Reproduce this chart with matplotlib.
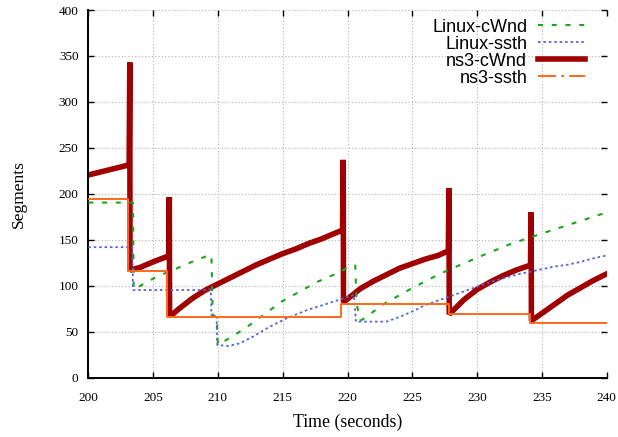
import matplotlib.pyplot as plt
from matplotlib.lines import Line2D

# Linux-cWnd
lx_cwnd_t = [200, 203.45, 203.5, 203.9, 204.5, 205.3, 206, 206.7, 207.3, 208, 208.7, 209.4,
             209.5, 209.6, 209.9, 210.0, 210.4, 211, 212.1, 213.5, 214.9, 216.3, 217.7, 219.2,
             220.4, 220.6, 220.7, 221.0, 221.1, 222.9, 225.1, 227.1, 228.5, 230.5, 232.5,
             234.6, 237, 239.6, 240]
lx_cwnd_v = [190.5, 190.5, 96, 99, 104, 110, 114, 118, 122, 126, 130, 133.5,
             133, 68, 66, 36, 39, 44, 53.7, 68, 82.7, 93.6, 104.5, 113.6,
             122.6, 122, 80, 63, 62.8, 81, 98.3, 112.8, 121.5, 133.5, 145,
             155, 166, 178, 180]

# Linux-ssth
lx_ssth_t = [200, 203.4, 203.45, 209.0, 209.3, 209.45, 209.5, 209.9, 209.95, 210.8, 211.7,
             212.7, 214.0, 215.3, 216.9, 218.1, 219.3, 220.5, 220.65, 223.0, 224, 225, 226,
             227, 228, 229, 230, 231, 232, 233, 234, 235, 236, 237, 238, 239, 240]
lx_ssth_v = [142, 142, 95.4, 95.4, 96, 96, 68, 66, 35.6, 34.5, 37.4,
             44.6, 55.5, 64.6, 73.7, 79, 84.5, 90, 61, 61, 66, 72, 79,
             84, 89, 94, 99, 104, 108, 112, 115, 118, 121, 123, 126, 130, 133]

# ns3-cWnd
ns_cwnd_t = [200, 203.15, 203.2, 203.22, 204, 205, 206.2, 206.25, 206.27, 206.5, 207, 208,
             209, 210, 211, 212, 213, 214, 215, 216, 217, 218, 219, 219.62, 219.67, 219.69,
             221, 222, 223, 224, 225, 226, 227, 227.78, 227.83, 227.85, 229, 230, 231, 232,
             233, 234.12, 234.17, 234.19, 235, 236, 237, 238, 239, 240]
ns_cwnd_v = [220.5, 231.5, 343, 117, 120, 126, 132.5, 196.5, 68, 69, 75, 86,
             95, 102, 109, 116, 123, 129, 135, 140, 146, 151, 157, 160.5, 237, 82,
             97, 105, 112, 119, 124, 129, 133, 138, 206, 69, 85, 96, 104, 111,
             117, 122.5, 180, 62, 70, 80, 90, 98, 106, 113]

# ns3-ssth
ns_ssth_t = [200, 203.1, 203.1, 206.1, 206.1, 219.5, 219.5, 227.8, 227.8, 234.1, 234.1, 240]
ns_ssth_v = [194, 194, 116, 116, 66, 66, 80, 80, 69, 69, 60, 60]

labels = ['Linux-cWnd', 'Linux-ssth', 'ns3-cWnd', 'ns3-ssth']
c_green = '#1aa61a'
c_blue = '#5566d8'
c_red = '#a00000'
c_orange = '#ff6a1a'
green_ls = (0, (2.4, 4.2))
blue_ls = (0, (1.4, 1.6))
orange_ls = (0, (9.3, 2.6, 1.5, 2.6))

fig = plt.figure(figsize=(6.18, 4.37), dpi=100)
ax = fig.add_axes([0.1429, 0.1357, 0.8388, 0.8414])

ax.plot(ns_cwnd_t, ns_cwnd_v, color=c_red, lw=4, zorder=2, solid_joinstyle='bevel')
ax.plot(lx_cwnd_t, lx_cwnd_v, color=c_green, lw=1.5, ls=green_ls, zorder=3)
ax.plot(lx_ssth_t, lx_ssth_v, color=c_blue, lw=1.3, ls=blue_ls, zorder=3)
ax.plot(ns_ssth_t, ns_ssth_v, color=c_orange, lw=1.4, zorder=4)

handles = [
    Line2D([], [], color=c_green, lw=1.5, ls=green_ls),
    Line2D([], [], color=c_blue, lw=1.3, ls=blue_ls),
    Line2D([], [], color=c_red, lw=4),
    Line2D([], [], color=c_orange, lw=1.4, ls=orange_ls),
]
leg = ax.legend(handles, labels, loc='upper right', bbox_to_anchor=(585 / 618, 0.957),
                bbox_transform=fig.transFigure, borderaxespad=0, borderpad=0,
                frameon=False, markerfirst=False, handlelength=2.6, handletextpad=0.6,
                labelspacing=0.0, prop={'family': 'Liberation Sans', 'size': 13})

ax.set_xlim(200, 240)
ax.set_ylim(0, 400)
ax.set_xticks(range(200, 241, 5))
ax.set_yticks(range(0, 401, 50))
ax.grid(True, color='#b0b0b0', ls=(0, (1, 2)), lw=0.8)
ax.set_axisbelow(True)
for s in ['top', 'right']:
    ax.spines[s].set_visible(False)
for s in ['left', 'bottom']:
    ax.spines[s].set_linewidth(1.4)
ax.tick_params(direction='in', length=4, width=1, top=True, right=True, labelsize=9.5)
ax.tick_params(axis='x', pad=10)
ax.tick_params(axis='y', pad=7)
for lab in ax.get_xticklabels() + ax.get_yticklabels():
    lab.set_family('Liberation Serif')

ax.set_xlabel('Time (seconds)', family='Liberation Serif', fontsize=12.8, labelpad=7)
ax.set_ylabel('Segments', family='Liberation Serif', fontsize=12.5, labelpad=23)

fig.savefig('out.png', dpi=100)
